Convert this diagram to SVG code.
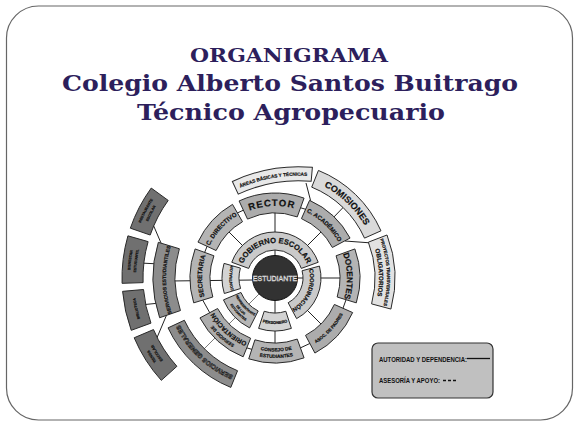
<svg xmlns="http://www.w3.org/2000/svg" width="579" height="425" viewBox="0 0 579 425">
<style>
.seg{stroke:#2a2a2a;stroke-width:1}
.r1{fill:#cacaca}.r1b{fill:#d3d3d3}.r1c{fill:#b6b6b6}
.r2{fill:#acacac}.r2b{fill:#b4b4b4}
.r3a{fill:#e8e8e8}.r3b{fill:#dadada}.r3c{fill:#e2e2e2}
.r3d{fill:#8c8c8c}.dk{fill:#707070}
.lb{font-family:"Liberation Sans",Arial,sans-serif;font-weight:bold;text-anchor:middle;fill:#111;stroke:#111;stroke-width:0.2}
.ol{fill:#b8b8b8;stroke:#111;stroke-width:0.55}
.ttl{font-family:"DejaVu Serif","Liberation Serif",serif;font-weight:bold;fill:#2d1f5c;text-anchor:middle}
.lg{font-family:"Liberation Sans",Arial,sans-serif;font-weight:bold;fill:#111}
</style>
<defs>
<path id="t35" d="M240.13,274.95 A35,35 0 0 1 309.87,274.95"/>
<path id="t43" d="M232.16,274.25 A43,43 0 0 1 317.84,274.25"/>
<path id="t70" d="M205.27,271.9 A70,70 0 0 1 344.73,271.9"/>
<path id="t72" d="M203.27,271.72 A72,72 0 0 1 346.73,271.72"/>
<path id="t73" d="M202.28,271.63 A73,73 0 0 1 347.72,271.63"/>
<path id="t78" d="M197.3,271.2 A78,78 0 0 1 352.7,271.2"/>
<path id="t104" d="M171.4,268.93 A104,104 0 0 1 378.6,268.93"/>
<path id="t106" d="M169.4,268.76 A106,106 0 0 1 380.6,268.76"/>
<path id="t109" d="M166.41,268.5 A109,109 0 0 1 383.59,268.5"/>
<path id="t112" d="M163.43,268.23 A112,112 0 0 1 386.57,268.23"/>
<path id="t139" d="M136.53,265.88 A139,139 0 0 1 413.47,265.88"/>
<path id="t141" d="M134.54,265.7 A141,141 0 0 1 415.46,265.7"/>
<path id="t145" d="M130.55,265.36 A145,145 0 0 1 419.45,265.36"/>
<path id="b43" d="M232.16,281.75 A43,43 0 0 0 317.84,281.75"/>
<path id="b46" d="M229.17,282.01 A46,46 0 0 0 320.83,282.01"/>
<path id="b48" d="M227.18,282.19 A48,48 0 0 0 322.82,282.19"/>
<path id="b52" d="M223.2,282.53 A52,52 0 0 0 326.8,282.53"/>
<path id="b735" d="M201.78,284.41 A73.5,73.5 0 0 0 348.22,284.41"/>
<path id="b77" d="M198.29,284.71 A77,77 0 0 0 351.71,284.71"/>
<path id="b80" d="M195.3,284.98 A80,80 0 0 0 354.7,284.98"/>
<path id="tA" d="M222.38,186.92 A148,148 0 0 1 323.62,186.92"/>
</defs>

<rect x="6.5" y="6" width="566" height="414" rx="32" fill="#fff" stroke="#666" stroke-width="1.2"/>

<g id="title">
<text class="ttl" x="289" y="62" font-size="19" textLength="198" lengthAdjust="spacingAndGlyphs">ORGANIGRAMA</text>
<text class="ttl" x="290" y="91" font-size="23" textLength="456" lengthAdjust="spacingAndGlyphs">Colegio Alberto Santos Buitrago</text>
<text class="ttl" x="291" y="120" font-size="23" textLength="308" lengthAdjust="spacingAndGlyphs">Técnico Agropecuario</text>
</g>

<g id="connectors" stroke="#222" stroke-width="1" fill="none">
<line x1="275" y1="256" x2="275" y2="210"/>
<line x1="297" y1="278" x2="342" y2="278"/>
<line x1="275" y1="300" x2="275" y2="346"/>
<line x1="253" y1="280" x2="170" y2="281"/>
<line x1="243.9" y1="246.9" x2="227.6" y2="230.6"/>
<line x1="306.1" y1="246.9" x2="322.4" y2="230.6"/>
<line x1="306.1" y1="309.1" x2="322.4" y2="325.4"/>
<line x1="332.66" y1="218.3" x2="344.47" y2="206.07"/>
<line x1="345" y1="241" x2="372" y2="243"/>
<line x1="306" y1="183" x2="312" y2="206"/>
<line x1="298" y1="207" x2="308" y2="210"/>
<line x1="235" y1="214" x2="246" y2="209"/>
<line x1="204" y1="254" x2="208" y2="244"/>
<line x1="347" y1="297" x2="342" y2="311"/>
<line x1="313" y1="342" x2="298" y2="349"/>
<line x1="254" y1="350" x2="244" y2="347"/>
<line x1="211" y1="315" x2="201" y2="297"/>
<line x1="140" y1="263" x2="160" y2="264"/>
<line x1="140" y1="305" x2="160" y2="303"/>
<line x1="152" y1="222" x2="164" y2="250"/>
<line x1="156" y1="340" x2="167" y2="314"/>
<line x1="259.4" y1="293.6" x2="202.9" y2="350.1" stroke="#7a7a7a"/>
</g>

<g id="estudiante">
<circle cx="275" cy="278" r="22.5" fill="#323232" stroke="#111" stroke-width="1"/>
<text x="275" y="280.5" font-family="Liberation Sans,Arial,sans-serif" font-size="7" text-anchor="middle" fill="#3a3a3a" stroke="#e6e6e6" stroke-width="0.45">ESTUDIANTE</text>
</g>

<g id="gobierno-escolar">
<path class="seg r1" d="M231.77,262.27 A46,46 0 0 1 318.23,262.27 L301.31,268.42 A28,28 0 0 0 248.69,268.42 Z"/>
<text class="lb" font-size="7.6"><textPath href="#t35" startOffset="50%">GOBIERNO ESCOLAR</textPath></text>
</g>
<g id="coordinacion">
<path class="seg r1" d="M319.43,266.1 A46,46 0 0 1 296.6,318.61 L288.15,302.72 A28,28 0 0 0 302.05,270.75 Z"/>
<text class="lb" font-size="5.8" transform="rotate(113.5 275 278)"><textPath href="#t35" startOffset="50%">COORDINACIÓN</textPath></text>
</g>
<g id="personero">
<path class="seg r1b" d="M291.38,328.41 A53,53 0 0 1 258.62,328.41 L264.18,311.29 A35,35 0 0 0 285.82,311.29 Z"/>
<text class="lb" font-size="4"><textPath href="#b46" startOffset="50%">PERSONERO</textPath></text>
</g>
<g id="representante">
<path class="seg r1c" d="M249.58,327.9 A56,56 0 0 1 223.45,299.88 L240.94,292.46 A37,37 0 0 0 258.2,310.97 Z"/>
<g transform="rotate(47 275 278)">
<text class="lb" font-size="3.2"><textPath href="#b43" startOffset="50%">REPRESENTANTE</textPath></text>
<text class="lb" font-size="3.2"><textPath href="#b48" startOffset="50%">DE LOS</textPath></text>
<text class="lb" font-size="3.2"><textPath href="#b52" startOffset="50%">ESTUDIANTES</textPath></text>
</g>
</g>
<g id="contralor">
<path class="seg r1b" d="M224.32,293.5 A53,53 0 0 1 224.05,263.39 L240.39,268.08 A36,36 0 0 0 240.57,288.53 Z"/>
<text class="lb" font-size="3.8" transform="rotate(-90.5 275 278)"><textPath href="#t43" startOffset="50%">CONTRALOR</textPath></text>
</g>

<g id="rector">
<path class="seg r2" d="M239.08,200.96 A85,85 0 0 1 304.07,198.13 L297.23,216.92 A65,65 0 0 0 247.53,219.09 Z"/>
<text class="lb" font-size="9.5" letter-spacing="1" transform="rotate(-2.5 275 278)"><textPath href="#t72" startOffset="50%">RECTOR</textPath></text>
</g>
<g id="c-academico">
<path class="seg r2" d="M309.57,200.35 A85,85 0 0 1 350.05,238.09 L332.39,247.48 A65,65 0 0 0 301.44,218.62 Z"/>
<text class="lb" font-size="6" transform="rotate(43 275 278)"><textPath href="#t73" startOffset="50%">C. ACADÉMICO</textPath></text>
</g>
<g id="docentes">
<path class="seg r2b" d="M354.87,248.93 A85,85 0 0 1 356.29,302.85 L337.16,297.01 A65,65 0 0 0 336.08,255.77 Z"/>
<text class="lb" font-size="8.2" transform="rotate(88.5 275 278)"><textPath href="#t72" startOffset="50%">DOCENTES</textPath></text>
</g>
<g id="asoc-padres">
<path class="seg r2" d="M352.65,312.57 A85,85 0 0 1 314.91,353.05 L305.52,335.39 A65,65 0 0 0 334.38,304.44 Z"/>
<text class="lb" font-size="4.4" transform="rotate(-47 275 278)"><textPath href="#b77" startOffset="50%">ASOC. DE PADRES</textPath></text>
</g>
<g id="consejo-estudiantes">
<path class="seg r2b" d="M304.07,357.87 A85,85 0 0 1 248.73,358.84 L254.91,339.82 A65,65 0 0 0 297.23,339.08 Z"/>
<g transform="rotate(-1 275 278)">
<text class="lb" font-size="4.8"><textPath href="#b735" startOffset="50%">CONSEJO DE</textPath></text>
<text class="lb" font-size="4.8"><textPath href="#b80" startOffset="50%">ESTUDIANTES</textPath></text>
</g>
</g>
<g id="orientacion">
<path class="seg r2" d="M243.16,356.81 A85,85 0 0 1 199.95,317.91 L217.61,308.52 A65,65 0 0 0 250.65,338.27 Z"/>
<g transform="rotate(-138 275 278)">
<text class="lb" font-size="4.5"><textPath href="#t78" startOffset="50%">SERVICIO DE</textPath></text>
<text class="lb" font-size="6.5"><textPath href="#t70" startOffset="50%">ORIENTACIÓN</textPath></text>
</g>
</g>
<g id="secretaria">
<path class="seg r2b" d="M193.71,302.85 A85,85 0 0 1 195.13,248.93 L213.92,255.77 A65,65 0 0 0 212.84,297.01 Z"/>
<text class="lb" font-size="6.5" transform="rotate(-88.5 275 278)"><textPath href="#t73" startOffset="50%">SECRETARIA</textPath></text>
</g>
<g id="c-directivo">
<path class="seg r2b" d="M197.96,242.08 A85,85 0 0 1 232.5,204.39 L242.5,221.71 A65,65 0 0 0 216.09,250.53 Z"/>
<text class="lb" font-size="6.2" transform="rotate(-47.5 275 278)"><textPath href="#t73" startOffset="50%">C. DIRECTIVO</textPath></text>
</g>

<g id="areas" transform="rotate(-10 273 178)">
<path class="seg r3a" d="M232.37,174.35 A157,157 0 0 1 313.63,174.35 L310.01,187.88 A143,143 0 0 0 235.99,187.88 Z"/>
<text class="lb" font-size="4.7"><textPath href="#tA" startOffset="50%">ÁREAS BÁSICAS Y TÉCNICAS</textPath></text>
</g>
<g id="comisiones">
<path class="seg r3b" d="M318.45,170.44 A116,116 0 0 1 380.97,230.82 L364.52,238.14 A98,98 0 0 0 311.71,187.13 Z"/>
<text class="lb" font-size="9" transform="rotate(44 275 278)"><textPath href="#t104" startOffset="50%">COMISIONES</textPath></text>
</g>
<g id="proyectos">
<path class="seg r3c" d="M387.03,234.99 A120,120 0 0 1 390.91,309.06 L371.59,303.88 A100,100 0 0 0 368.36,242.16 Z"/>
<g transform="rotate(87 275 278)">
<text class="lb" font-size="4.4"><textPath href="#t112" startOffset="50%">PROYECTOS TRANSVERSALES</textPath></text>
<text class="lb" font-size="6.2"><textPath href="#t104" startOffset="50%">OBLIGATORIOS</textPath></text>
</g>
</g>
<g id="servicios-estudiantiles">
<path class="seg r3d" d="M159.65,317.72 A122,122 0 0 1 158.33,242.33 L179.37,248.76 A100,100 0 0 0 180.45,310.56 Z"/>
<text class="lb" font-size="5" transform="rotate(-91 275 278)"><textPath href="#t109" startOffset="50%">SERVICIOS ESTUDIANTILES</textPath></text>
</g>
<g id="servicios-generales">
<path class="seg r3d" d="M230.8,387.41 A118,118 0 0 1 168.06,327.87 L184.37,320.26 A100,100 0 0 0 237.54,370.72 Z"/>
<text class="lb ol" font-size="6.3" transform="rotate(-136.5 275 278)"><textPath href="#t106" startOffset="50%">SERVICIOS GENERALES</textPath></text>
</g>

<g id="restaurante">
<path class="seg dk" d="M130.34,228.18 A153,153 0 0 1 151.22,188.07 L168.21,200.41 A132,132 0 0 0 150.19,235.02 Z"/>
<g transform="rotate(-62.5 275 278)">
<text class="lb" font-size="3.5"><textPath href="#t145" startOffset="50%">RESTAURANTE</textPath></text>
<text class="lb" font-size="3.5"><textPath href="#t139" startOffset="50%">ESCOLAR</textPath></text>
</g>
</g>
<g id="bienestar">
<path class="seg dk" d="M122.09,283.34 A153,153 0 0 1 127.92,235.83 L148.11,241.62 A132,132 0 0 0 143.08,282.61 Z"/>
<g transform="rotate(-83 275 278)">
<text class="lb" font-size="3.5"><textPath href="#t145" startOffset="50%">BIENESTAR</textPath></text>
<text class="lb" font-size="3.5"><textPath href="#t139" startOffset="50%">ESTUDIANTIL</textPath></text>
</g>
</g>
<g id="biblioteca">
<path class="seg dk" d="M131.23,330.33 A153,153 0 0 1 122.58,291.34 L143.5,289.51 A132,132 0 0 0 150.96,323.14 Z"/>
<text class="lb" font-size="3.5" transform="rotate(-102.5 275 278)"><textPath href="#t141" startOffset="50%">BIBLIOTECA</textPath></text>
</g>
<g id="tienda">
<path class="seg dk" d="M161.31,380.37 A153,153 0 0 1 134.16,337.78 L153.49,329.57 A132,132 0 0 0 176.91,366.32 Z"/>
<g transform="rotate(-122.5 275 278)">
<text class="lb" font-size="3.8"><textPath href="#t145" startOffset="50%">TIENDA</textPath></text>
<text class="lb" font-size="3.8"><textPath href="#t139" startOffset="50%">ESCOLAR</textPath></text>
</g>
</g>

<g id="leyenda">
<rect x="372" y="343" width="121" height="55" rx="6" fill="#c0c0c0" stroke="#333" stroke-width="1.2"/>
<text class="lg" x="379" y="362" font-size="8" textLength="88" lengthAdjust="spacingAndGlyphs">AUTORIDAD Y DEPENDENCIA:</text>
<line x1="467" y1="358.5" x2="490" y2="358.5" stroke="#111" stroke-width="1.3"/>
<text class="lg" x="379" y="383" font-size="8" textLength="61" lengthAdjust="spacingAndGlyphs">ASESORÍA Y APOYO:</text>
<line x1="443" y1="380.5" x2="458" y2="380.5" stroke="#111" stroke-width="1.3" stroke-dasharray="3 2"/>
</g>
</svg>
